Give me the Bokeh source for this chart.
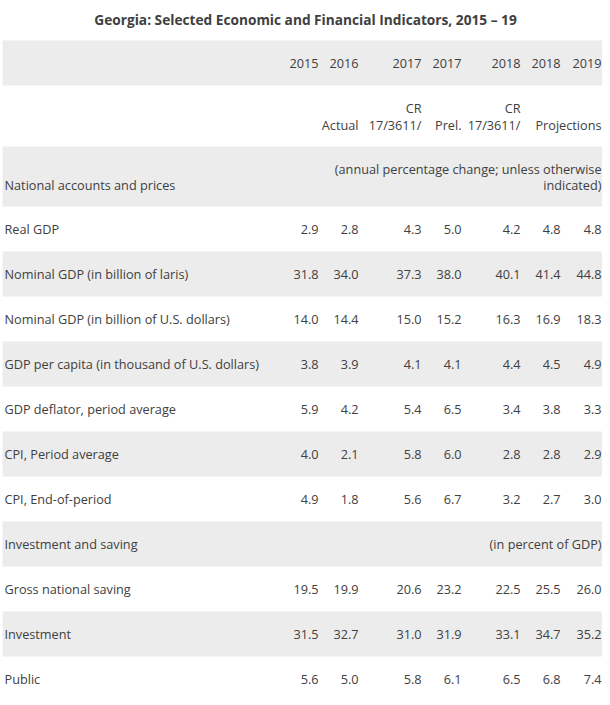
from bokeh.plotting import figure
from bokeh.models import Range1d, ColumnDataSource
from bokeh.core.properties import value
from bokeh.embed import file_html
from bokeh.resources import INLINE

# ---------------- data ----------------
title = "Georgia: Selected Economic and Financial Indicators, 2015 \u2013 19"
years = ["2015", "2016", "2017", "2017", "2018", "2018", "2019"]
sub_top = ["", "", "CR", "", "CR", "", ""]
sub_bottom = ["", "Actual", "17/3611/", "Prel.", "17/3611/", "", "Projections"]

section1 = "National accounts and prices"
section1_note = ["(annual percentage change; unless otherwise", "indicated)"]

row_labels = [
    "Real GDP",
    "Nominal GDP (in billion of laris)",
    "Nominal GDP (in billion of U.S. dollars)",
    "GDP per capita (in thousand of U.S. dollars)",
    "GDP deflator, period average",
    "CPI, Period average",
    "CPI, End-of-period",
    "Investment and saving",
    "Gross national saving",
    "Investment",
    "Public",
]
section2_note = "(in percent of GDP)"

v2015 = [2.9, 31.8, 14.0, 3.8, 5.9, 4.0, 4.9, None, 19.5, 31.5, 5.6]
v2016 = [2.8, 34.0, 14.4, 3.9, 4.2, 2.1, 1.8, None, 19.9, 32.7, 5.0]
v2017cr = [4.3, 37.3, 15.0, 4.1, 5.4, 5.8, 5.6, None, 20.6, 31.0, 5.8]
v2017p = [5.0, 38.0, 15.2, 4.1, 6.5, 6.0, 6.7, None, 23.2, 31.9, 6.1]
v2018cr = [4.2, 40.1, 16.3, 4.4, 3.4, 2.8, 3.2, None, 22.5, 33.1, 6.5]
v2018 = [4.8, 41.4, 16.9, 4.5, 3.8, 2.8, 2.7, None, 25.5, 34.7, 6.8]
v2019 = [4.8, 44.8, 18.3, 4.9, 3.3, 2.9, 3.0, None, 26.0, 35.2, 7.4]
columns = [v2015, v2016, v2017cr, v2017p, v2018cr, v2018, v2019]

# ---------------- layout ----------------
FONT = value("Open Sans")
TXT = "#404040"
BAND = "#ececec"
FS = "12.7px"

col_right = [318, 358, 421, 461, 520, 560, 601]
label_x = 4
x_left, x_right = 0, 602

header_top, header_bot = 40, 85
sub_bot = 146
sec_bot = 206
row_h = 45

p = figure(width=602, height=697, output_backend="svg", toolbar_location=None,
           x_range=Range1d(x_left, x_right), y_range=Range1d(697, 0),
           x_axis_location=None, y_axis_location=None,
           min_border=0, outline_line_color=None)
p.grid.visible = False
p.background_fill_color = "white"
p.border_fill_color = "white"

# bands
tops, bots = [header_top, sub_bot], [header_bot, sec_bot]
for i in range(len(row_labels) + 1):
    if i % 2 == 1:
        t = sec_bot + i * row_h
        tops.append(t)
        bots.append(t + row_h)
p.quad(left=2, right=x_right, top=tops, bottom=bots, fill_color=BAND, line_color=None)

def txt(x, y, t, align="left", size=FS, style="normal"):
    src = ColumnDataSource(dict(x=x, y=y, t=t))
    p.text(x="x", y="y", text="t", source=src, text_align=align, text_baseline="middle",
           text_font=FONT, text_font_size=size, text_color=TXT, text_font_style=style)

# title
txt([305], [19], [title], align="center", size="13.7px", style="bold")

# header years
yc = (header_top + header_bot) / 2
txt(col_right, [yc] * len(years), years, align="right")

# sub-header lines
st = [(x, s) for x, s in zip(col_right, sub_top) if s]
txt([a for a, _ in st], [107] * len(st), [b for _, b in st], align="right")
sb = [(x, s) for x, s in zip(col_right, sub_bottom) if s]
txt([a for a, _ in sb], [124] * len(sb), [b for _, b in sb], align="right")

# section 1
txt([label_x], [184], [section1])
txt([col_right[-1]] * 2, [168, 184], section1_note, align="right")

# body rows
ys = [sec_bot + i * row_h + row_h / 2 for i in range(len(row_labels))]
txt([label_x] * len(row_labels), ys, row_labels)
for cx, col in zip(col_right, columns):
    pts = [(y, f"{v:.1f}") for y, v in zip(ys, col) if v is not None]
    txt([cx] * len(pts), [a for a, _ in pts], [b for _, b in pts], align="right")

# section 2 note
sec2_idx = row_labels.index("Investment and saving")
txt([col_right[-1]], [ys[sec2_idx]], [section2_note], align="right")

open("out.html", "w").write(file_html(p, INLINE))
